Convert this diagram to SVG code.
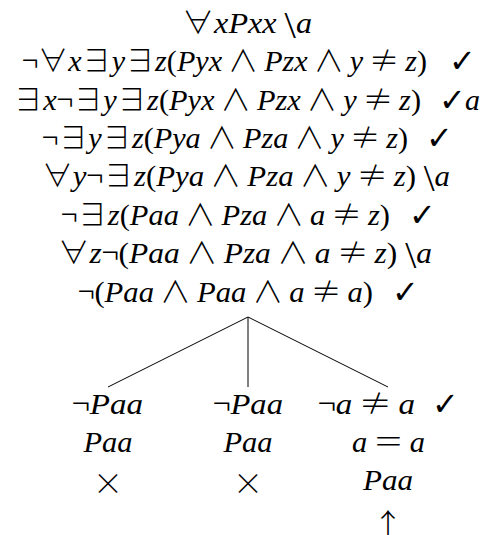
<svg xmlns="http://www.w3.org/2000/svg" width="486" height="535" viewBox="0 0 486 535">
<style>
.f{font-family:"Liberation Serif","DejaVu Serif",serif;font-size:30px;fill:#000}
.i{font-style:italic}
.u{font-style:normal}
.w{font-family:"Noto Sans CJK JP","DejaVu Sans",sans-serif;font-style:normal;font-weight:300}
.bs{font-style:normal;font-size:38px}
.ck{font-family:"DejaVu Sans",sans-serif;font-size:32px;font-weight:bold;fill:#000}
.x{font-family:"Noto Sans CJK JP","DejaVu Sans",sans-serif;font-size:30px;font-weight:300;fill:#000}
.ln{stroke:#000;stroke-width:1;fill:none}
</style>
<rect width="486" height="535" fill="#fff"/>
<g id="connectors">
<line class="ln" x1="248" y1="317" x2="108" y2="387"/>
<line class="ln" x1="248" y1="317" x2="248" y2="387"/>
<line class="ln" x1="248" y1="317" x2="388" y2="387"/>
</g>
<g id="n1"><text class="f" x="182" y="33" textLength="130" lengthAdjust="spacingAndGlyphs"><tspan class="w">∀</tspan><tspan class="i">xPxx </tspan><tspan class="bs" dy="5">\</tspan><tspan class="i" dy="-5">a</tspan></text></g>
<g id="n2"><text class="f" x="22" y="71" textLength="405" lengthAdjust="spacingAndGlyphs"><tspan class="w">¬∀</tspan><tspan class="i">x</tspan><tspan class="w">∃</tspan><tspan class="i">y</tspan><tspan class="w">∃</tspan><tspan class="i">z</tspan><tspan class="u">(</tspan><tspan class="i">Pyx&#8201;</tspan><tspan class="w">∧</tspan><tspan class="i">&#8201;Pzx&#8201;</tspan><tspan class="w">∧</tspan><tspan class="i">&#8201;y&#8201;</tspan><tspan class="w">≠</tspan><tspan class="i">&#8201;z</tspan><tspan class="u">)</tspan></text><text class="ck" x="449" y="72">✓</text></g>
<g id="n3"><text class="f" x="13" y="110" textLength="408" lengthAdjust="spacingAndGlyphs"><tspan class="w">∃</tspan><tspan class="i">x</tspan><tspan class="w">¬∃</tspan><tspan class="i">y</tspan><tspan class="w">∃</tspan><tspan class="i">z</tspan><tspan class="u">(</tspan><tspan class="i">Pyx&#8201;</tspan><tspan class="w">∧</tspan><tspan class="i">&#8201;Pzx&#8201;</tspan><tspan class="w">∧</tspan><tspan class="i">&#8201;y&#8201;</tspan><tspan class="w">≠</tspan><tspan class="i">&#8201;z</tspan><tspan class="u">)</tspan></text><text class="ck" x="439" y="111">✓</text><text class="f i" x="465" y="110">a</text></g>
<g id="n4"><text class="f" x="42" y="148" textLength="366" lengthAdjust="spacingAndGlyphs"><tspan class="w">¬∃</tspan><tspan class="i">y</tspan><tspan class="w">∃</tspan><tspan class="i">z</tspan><tspan class="u">(</tspan><tspan class="i">Pya&#8201;</tspan><tspan class="w">∧</tspan><tspan class="i">&#8201;Pza&#8201;</tspan><tspan class="w">∧</tspan><tspan class="i">&#8201;y&#8201;</tspan><tspan class="w">≠</tspan><tspan class="i">&#8201;z</tspan><tspan class="u">)</tspan></text><text class="ck" x="426" y="149">✓</text></g>
<g id="n5"><text class="f" x="42" y="186" textLength="408" lengthAdjust="spacingAndGlyphs"><tspan class="w">∀</tspan><tspan class="i">y</tspan><tspan class="w">¬∃</tspan><tspan class="i">z</tspan><tspan class="u">(</tspan><tspan class="i">Pya&#8201;</tspan><tspan class="w">∧</tspan><tspan class="i">&#8201;Pza&#8201;</tspan><tspan class="w">∧</tspan><tspan class="i">&#8201;y&#8201;</tspan><tspan class="w">≠</tspan><tspan class="i">&#8201;z</tspan><tspan class="u">) </tspan><tspan class="bs" dy="5">\</tspan><tspan class="i" dy="-5">a</tspan></text></g>
<g id="n6"><text class="f" x="61" y="225" textLength="329" lengthAdjust="spacingAndGlyphs"><tspan class="w">¬∃</tspan><tspan class="i">z</tspan><tspan class="u">(</tspan><tspan class="i">Paa&#8201;</tspan><tspan class="w">∧</tspan><tspan class="i">&#8201;Pza&#8201;</tspan><tspan class="w">∧</tspan><tspan class="i">&#8201;a&#8201;</tspan><tspan class="w">≠</tspan><tspan class="i">&#8201;z</tspan><tspan class="u">)</tspan></text><text class="ck" x="409" y="226">✓</text></g>
<g id="n7"><text class="f" x="58" y="263" textLength="374" lengthAdjust="spacingAndGlyphs"><tspan class="w">∀</tspan><tspan class="i">z</tspan><tspan class="w">¬</tspan><tspan class="u">(</tspan><tspan class="i">Paa&#8201;</tspan><tspan class="w">∧</tspan><tspan class="i">&#8201;Pza&#8201;</tspan><tspan class="w">∧</tspan><tspan class="i">&#8201;a&#8201;</tspan><tspan class="w">≠</tspan><tspan class="i">&#8201;z</tspan><tspan class="u">) </tspan><tspan class="bs" dy="5">\</tspan><tspan class="i" dy="-5">a</tspan></text></g>
<g id="n8"><text class="f" x="78" y="302" textLength="295" lengthAdjust="spacingAndGlyphs"><tspan class="w">¬</tspan><tspan class="u">(</tspan><tspan class="i">Paa&#8201;</tspan><tspan class="w">∧</tspan><tspan class="i">&#8201;Paa&#8201;</tspan><tspan class="w">∧</tspan><tspan class="i">&#8201;a&#8201;</tspan><tspan class="w">≠</tspan><tspan class="i">&#8201;a</tspan><tspan class="u">)</tspan></text><text class="ck" x="392" y="303">✓</text></g>
<g id="bL">
<text class="f" x="72" y="414" textLength="71" lengthAdjust="spacingAndGlyphs"><tspan class="w">¬</tspan><tspan class="i">Paa</tspan></text>
<text class="f i" x="108" y="452" text-anchor="middle" textLength="49" lengthAdjust="spacingAndGlyphs">Paa</text>
<text class="x" x="108" y="494" text-anchor="middle">×</text>
</g>
<g id="bM">
<text class="f" x="213" y="414" textLength="70" lengthAdjust="spacingAndGlyphs"><tspan class="w">¬</tspan><tspan class="i">Paa</tspan></text>
<text class="f i" x="248" y="452" text-anchor="middle" textLength="49" lengthAdjust="spacingAndGlyphs">Paa</text>
<text class="x" x="248" y="494" text-anchor="middle">×</text>
</g>
<g id="bR">
<text class="f" x="318" y="414" textLength="97" lengthAdjust="spacingAndGlyphs"><tspan class="w">¬</tspan><tspan class="i">a&#8201;</tspan><tspan class="w">≠</tspan><tspan class="i">&#8201;a</tspan></text><text class="ck" x="432" y="415">✓</text>
<text class="f" x="352" y="452" textLength="73" lengthAdjust="spacingAndGlyphs"><tspan class="i">a&#8201;</tspan><tspan class="w">＝</tspan><tspan class="i">&#8201;a</tspan></text>
<text class="f i" x="388" y="490" text-anchor="middle" textLength="50" lengthAdjust="spacingAndGlyphs">Paa</text>
<text class="x" x="388" y="535" text-anchor="middle">↑</text>
</g>
</svg>
